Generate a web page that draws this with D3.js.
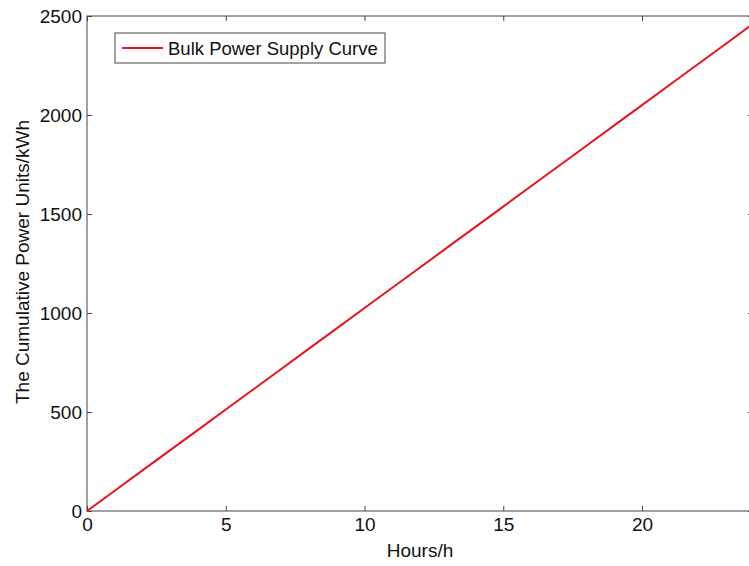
<!DOCTYPE html>
<html><head><meta charset="utf-8">
<script src="https://cdn.jsdelivr.net/npm/d3@7"></script>
<style>body{margin:0;background:#fff;} svg{display:block;font-family:"Liberation Sans",Arial,sans-serif;}</style>
</head><body>
<svg id="c" width="749" height="566"></svg>
<script>
const hours = [0,1,2,3,4,5,6,7,8,9,10,11,12,13,14,15,16,17,18,19,20,21,22,23,24];
const cumulative = [0,102.5,205,307.5,410,512.5,615,717.5,820,922.5,1025,1127.5,1230,1332.5,1435,1537.5,1640,1742.5,1845,1947.5,2050,2152.5,2255,2357.5,2460];
const xTicks = [0,5,10,15,20];
const yTicks = [0,500,1000,1500,2000,2500];
const seriesName = "Bulk Power Supply Curve";
const xLabel = "Hours/h";
const yLabel = "The Cumulative Power Units/kWh";

const svg = d3.select("#c");
const L = 87, T = 16, B = 511, R = 753;
const x = d3.scaleLinear().domain([0,24]).range([L,R]);
const y = d3.scaleLinear().domain([0,2500]).range([B,T]);
const axisColor = "#444";

svg.append("rect").attr("x",L).attr("y",T).attr("width",R-L).attr("height",B-T)
  .attr("fill","none").attr("stroke",axisColor).attr("stroke-width",1);

const fs = "19px";
function styleAxis(g){
  g.select(".domain").remove();
  g.selectAll("line").attr("stroke",axisColor);
  g.selectAll("text").attr("fill","#111").style("font-size",fs);
}
svg.append("g").attr("transform",`translate(0,${B})`)
  .call(d3.axisBottom(x).tickValues(xTicks).tickSize(-5).tickPadding(7).tickFormat(d3.format("d")))
  .call(styleAxis);
svg.append("g").attr("transform",`translate(0,${T})`)
  .call(d3.axisTop(x).tickValues(xTicks).tickSize(-5).tickFormat(""))
  .call(styleAxis);
svg.append("g").attr("transform",`translate(${L},0)`)
  .call(d3.axisLeft(y).tickValues(yTicks).tickSize(-5).tickPadding(5).tickFormat(d3.format("d")))
  .call(styleAxis);
svg.append("g").attr("transform",`translate(${R},0)`)
  .call(d3.axisRight(y).tickValues(yTicks).tickSize(-5).tickFormat(""))
  .call(styleAxis);

svg.append("path").datum(hours.map((h,i)=>[h,cumulative[i]]))
  .attr("fill","none").attr("stroke","#e8141a").attr("stroke-width",2)
  .attr("d",d3.line().x(d=>x(d[0])).y(d=>y(d[1])));

const lg = svg.append("g");
lg.append("rect").attr("x",115).attr("y",33).attr("width",270).attr("height",30)
  .attr("fill","#fff").attr("stroke",axisColor);
lg.append("line").attr("x1",122).attr("x2",163).attr("y1",48).attr("y2",48)
  .attr("stroke","#e8141a").attr("stroke-width",2);
lg.append("text").attr("x",168).attr("y",55).style("font-size","18.5px").attr("fill","#111").text(seriesName);

svg.append("text").attr("x",420).attr("y",557).attr("text-anchor","middle")
  .style("font-size",fs).attr("fill","#111").text(xLabel);
svg.append("text").attr("transform",`translate(29,262) rotate(-90)`).attr("text-anchor","middle")
  .style("font-size",fs).attr("fill","#111").text(yLabel);
</script>
</body></html>
